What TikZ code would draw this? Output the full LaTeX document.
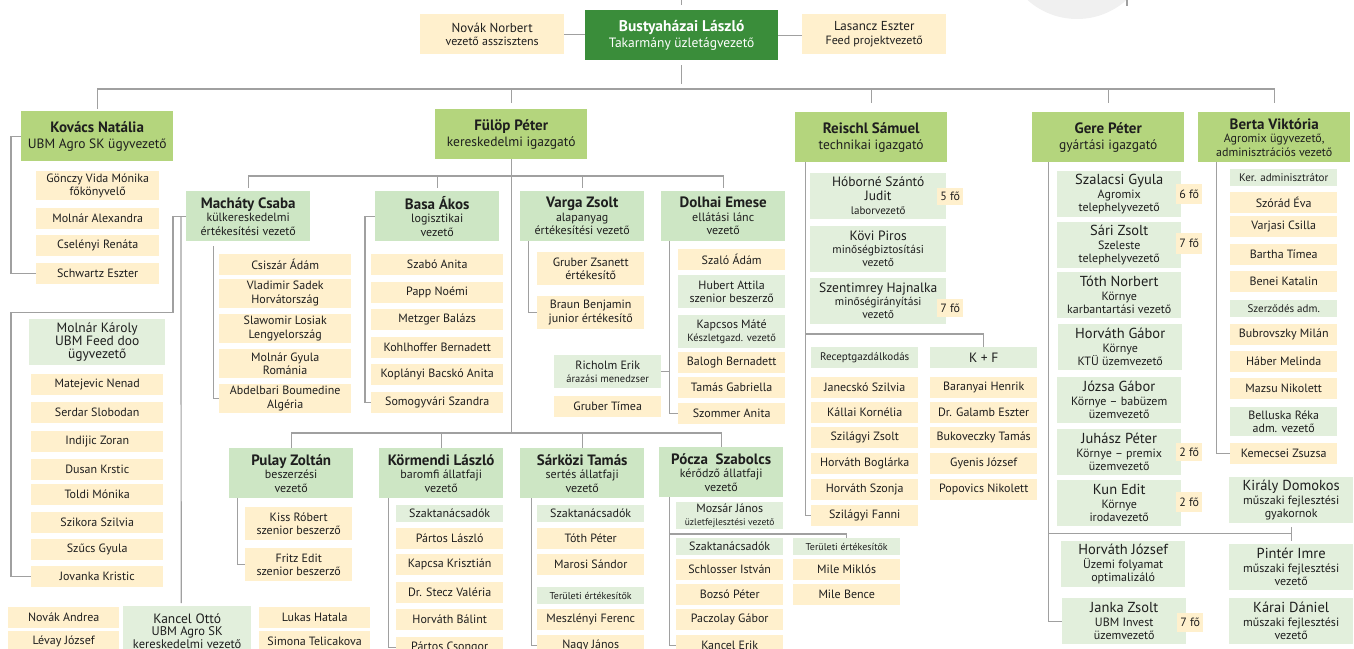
\documentclass[tikz,border=0pt]{standalone}
\usepackage{fontspec}
\setmainfont{PT Sans}
\definecolor{topgreen}{RGB}{58,141,58}
\definecolor{headgreen}{RGB}{180,213,125}
\definecolor{leadgreen}{RGB}{205,230,196}
\definecolor{palegreen}{RGB}{226,239,220}
\definecolor{cream}{RGB}{255,240,205}
\definecolor{linegray}{RGB}{160,160,160}
\definecolor{disc}{RGB}{240,240,240}
\definecolor{ink}{RGB}{30,30,30}

\begin{document}
\begin{tikzpicture}[x=1pt, y=-1pt]
    \tikzstyle{every node} = [anchor=north west, inner sep=0pt, align=center, text=ink, font=\fontsize{12}{13.5}\selectfont]
    \tikzstyle{boss} = [fill=topgreen, text=white, minimum width=193pt, minimum height=50pt, font=\fontsize{13.5}{16}\selectfont]
    \tikzstyle{head} = [fill=headgreen, minimum width=152pt, minimum height=50pt, font=\fontsize{13.5}{16}\selectfont]
    \tikzstyle{lead} = [fill=leadgreen, minimum width=124pt, minimum height=50pt, font=\fontsize{12}{13.5}\selectfont]
    \tikzstyle{unit} = [fill=palegreen]
    \tikzstyle{person} = [fill=cream]
    \tikzstyle{tag} = [fill=cream, minimum width=26pt, minimum height=19pt]
    \tikzstyle{tiny} = [font=\fontsize{10}{11}\selectfont]
    \tikzstyle{small} = [font=\fontsize{11}{12.5}\selectfont]
    \tikzstyle{w107} = [minimum width=107pt]
    \tikzstyle{w111} = [minimum width=111pt]
    \tikzstyle{w123} = [minimum width=123pt]
    \tikzstyle{w124} = [minimum width=124pt]
    \tikzstyle{w132} = [minimum width=132pt]
    \tikzstyle{w136} = [minimum width=136pt]
    \tikzstyle{h17} = [minimum height=17pt]
    \tikzstyle{h21} = [minimum height=21pt]
    \tikzstyle{h29} = [minimum height=29pt]
    \tikzstyle{h33} = [minimum height=33pt]
    \tikzstyle{h46} = [minimum height=46pt]
    \tikzstyle{link} = [draw=linegray, line width=1.2pt]

    \useasboundingbox (0,0) rectangle (1354,648);
    \clip (0,0) rectangle (1354,648);
    \fill[disc] (1077,-55) circle (74pt);

    % top
    \node [person, minimum width=144pt, minimum height=40pt, font=\fontsize{12}{13.5}\selectfont] (novakn) at (420,14) {{\fontsize{13}{14}\selectfont Novák Norbert}\\vezető asszisztens};
    \node [boss] (busty) at (585,10) {{\bfseries\fontsize{15.5}{17}\selectfont Bustyaházai László}\\Takarmány üzletágvezető};
    \node [person, minimum width=144pt, minimum height=40pt, font=\fontsize{12}{13.5}\selectfont] (lasancz) at (802,14) {{\fontsize{13}{14}\selectfont Lasancz Eszter}\\Feed projektvezető};

    % directors
    \node [head] (kovacs) at (21,111) {{\bfseries\fontsize{15}{17}\selectfont Kovács Natália}\\UBM Agro SK ügyvezető};
    \node [head] (fulop) at (435,109) {{\bfseries\fontsize{15}{17}\selectfont Fülöp Péter}\\kereskedelmi igazgató};
    \node [head] (reischl) at (795,112) {{\bfseries\fontsize{15}{17}\selectfont Reischl Sámuel}\\technikai igazgató};
    \node [head] (gere) at (1032,112) {{\bfseries\fontsize{15}{17}\selectfont Gere Péter}\\gyártási igazgató};
    \node [head, font=\fontsize{12}{13.5}\selectfont] (berta) at (1198,112) {{\bfseries\fontsize{15}{17}\selectfont Berta Viktória}\\Agromix ügyvezető,\\adminisztrációs vezető};

    % Kovacs
    \node [person, w123, h29] (gonczy) at (36,171) {Gönczy Vida Mónika\\főkönyvelő};
    \node [person, w123, h21] (molnara) at (36,208) {Molnár Alexandra};
    \node [person, w123, h21] (cselenyi) at (36,235) {Cselényi Renáta};
    \node [person, w123, h21] (schwartz) at (36,263) {Schwartz Eszter};

    % kereskedelem
    \node [lead] (machaty) at (186,191) {{\bfseries\fontsize{15}{17}\selectfont Macháty Csaba}\\külkereskedelmi\\értékesítési vezető};
    \node [lead] (basa) at (375,191) {{\bfseries\fontsize{15}{17}\selectfont Basa Ákos}\\logisztikai\\vezető};
    \node [lead] (varga) at (520,191) {{\bfseries\fontsize{15}{17}\selectfont Varga Zsolt}\\alapanyag\\értékesítési vezető};
    \node [lead] (dolhai) at (661,191) {{\bfseries\fontsize{15}{17}\selectfont Dolhai Emese}\\ellátási lánc\\vezető};
    \node [lead] (pulay) at (229,448) {{\bfseries\fontsize{15}{17}\selectfont Pulay Zoltán}\\beszerzési\\vezető};
    \node [lead] (kormendi) at (379,448) {{\bfseries\fontsize{15}{17}\selectfont Körmendi László}\\baromfi állatfaji\\vezető};
    \node [lead] (sarkozi) at (520,448) {{\bfseries\fontsize{15}{17}\selectfont Sárközi Tamás}\\sertés állatfaji\\vezető};
    \node [lead] (pocza) at (659,447) {{\bfseries\fontsize{15}{17}\selectfont Pócza \ Szabolcs}\\kérődző állatfaji\\vezető};

    \node [person, w132, h21] (csiszar) at (219,254) {Csiszár Ádám};
    \node [person, w132, h29] (vladimir) at (219,279) {Vladimir Sadek\\Horvátország};
    \node [person, w132, h29] (slawomir) at (219,314) {Slawomir Losiak\\Lengyelország};
    \node [person, w132, h29] (molnargy) at (219,349) {Molnár Gyula\\Románia};
    \node [person, w132, h29] (abdel) at (219,384) {Abdelbari Boumedine\\Algéria};

    \node [unit, w136, h46, font=\fontsize{13.5}{13}\selectfont] (karoly) at (29,319) {Molnár Károly\\UBM Feed doo\\ügyvezető};
    \node [person, w132, h21] (matej) at (31,374) {Matejevic Nenad};
    \node [person, w132, h21] (serdar) at (31,402) {Serdar Slobodan};
    \node [person, w132, h21] (indijic) at (31,431) {Indijic Zoran};
    \node [person, w132, h21] (dusan) at (31,459) {Dusan Krstic};
    \node [person, w132, h21] (toldi) at (31,484) {Toldi Mónika};
    \node [person, w132, h21] (szikora) at (31,512) {Szikora Szilvia};
    \node [person, w132, h21] (szucs) at (31,539) {Szűcs Gyula};
    \node [person, w132, h21] (jovanka) at (31,566) {Jovanka Kristic};

    \node [person, w111, h21] (novaka) at (8,607) {Novák Andrea};
    \node [person, w111, h21] (levay) at (8,631) {Lévay József};
    \node [unit, minimum width=128pt, minimum height=50pt, font=\fontsize{12.5}{12.5}\selectfont] (kancel) at (123,606) {{\fontsize{13.5}{14}\selectfont Kancel Ottó}\\UBM Agro SK\\kereskedelmi vezető};
    \node [person, w111, h21] (lukas) at (259,607) {Lukas Hatala};
    \node [person, w111, h21] (simona) at (259,631) {Simona Telicakova};

    \node [person, w132, h21] (szaboa) at (371,254) {Szabó Anita};
    \node [person, w132, h21] (papp) at (371,282) {Papp Noémi};
    \node [person, w132, h21] (metzger) at (371,309) {Metzger Balázs};
    \node [person, w132, h21] (kohl) at (371,337) {Kohlhoffer Bernadett};
    \node [person, w132, h21] (koplanyi) at (371,364) {Koplányi Bacskó Anita};
    \node [person, w132, h21] (somogy) at (371,392) {Somogyvári Szandra};

    \node [person, w107, h33] (gruberzs) at (537,252) {Gruber Zsanett\\értékesítő};
    \node [person, w107, h33] (braun) at (537,296) {Braun Benjamin\\junior értékesítő};

    \node [person, w107, h21] (szalo) at (678,249) {Szaló Ádám};
    \node [unit, w107, h33] (hubert) at (678,275) {Hubert Attila\\szenior beszerző};
    \node [unit, w107, h33] (kapcsos) at (678,315) {Kapcsos Máté\\{\fontsize{10.5}{12}\selectfont Készletgazd. vezető}};
    \node [person, w107, h21] (balogh) at (678,352) {Balogh Bernadett};
    \node [person, w107, h21] (tamasg) at (678,377) {Tamás Gabriella};
    \node [person, w107, h21] (szommer) at (678,403) {Szommer Anita};
    \node [unit, w107, h33] (richolm) at (554,355) {Richolm Erik\\{\fontsize{10.5}{12}\selectfont árazási menedzser}};
    \node [person, w107, h21] (grubert) at (554,396) {Gruber Tímea};

    \node [person, w107, h33] (kiss) at (245,507) {Kiss Róbert\\szenior beszerző};
    \node [person, w107, h33] (fritz) at (245,548) {Fritz Edit\\szenior beszerző};

    \node [unit, w107, h17] (szakK) at (396,505) {Szaktanácsadók};
    \node [person, w107, h21] (partosl) at (396,528) {Pártos László};
    \node [person, w107, h21] (kapcsa) at (396,554) {Kapcsa Krisztián};
    \node [person, w107, h21] (stecz) at (396,582) {Dr. Stecz Valéria};
    \node [person, w107, h21] (horvathb) at (396,609) {Horváth Bálint};
    \node [person, w107, h21] (partoscs) at (396,637) {Pártos Csongor};

    \node [unit, w107, h17] (szakS) at (537,505) {Szaktanácsadók};
    \node [person, w107, h21] (tothp) at (537,528) {Tóth Péter};
    \node [person, w107, h21] (marosi) at (537,554) {Marosi Sándor};
    \node [unit, w107, h17, tiny] (terulS) at (537,587) {Területi értékesítők};
    \node [person, w107, h21] (meszlenyi) at (537,609) {Meszlényi Ferenc};
    \node [person, w107, h21] (nagyj) at (537,635) {Nagy János};

    \node [unit, w107, minimum height=27pt] (mozsar) at (676,502) {Mozsár János\\{\fontsize{9.5}{11}\selectfont üzletfejlesztési vezető}};
    \node [unit, w107, h17] (szakP) at (676,538) {Szaktanácsadók};
    \node [person, w107, h21] (schlosser) at (676,559) {Schlosser István};
    \node [person, w107, h21] (bozso) at (676,584) {Bozsó Péter};
    \node [person, w107, h21] (paczolay) at (676,609) {Paczolay Gábor};
    \node [person, w107, h21] (kancele) at (676,635) {Kancel Erik};
    \node [unit, w107, h17, tiny] (terulP) at (793,538) {Területi értékesítők};
    \node [person, w107, h21] (milem) at (793,559) {Mile Miklós};
    \node [person, w107, h21] (mileb) at (793,584) {Mile Bence};

    % technika
    \node [unit, w136, h46, font=\fontsize{13.5}{14}\selectfont] (hoborne) at (810,173) {Hóborné Szántó\\Judit\\{\fontsize{11}{12}\selectfont laborvezető}};
    \node [unit, w136, h46, font=\fontsize{11.5}{13}\selectfont] (kovi) at (810,226) {{\fontsize{13.5}{14}\selectfont Kövi Piros}\\minőségbiztosítási\\vezető};
    \node [unit, w136, h46, font=\fontsize{11.5}{13}\selectfont] (szentim) at (810,278) {{\fontsize{13.5}{14}\selectfont Szentimrey Hajnalka}\\minőségirányítási\\vezető};
    \node [tag, minimum height=17pt] (tag5) at (937,188) {5 fő};
    \node [tag, minimum height=18pt] (tag7a) at (937,299) {7 fő};
    \node [unit, w107, h21, small] (recept) at (811,347) {Receptgazdálkodás};
    \node [unit, w107, h21, font=\fontsize{13.5}{14}\selectfont] (kf) at (930,347) {K + F};
    \node [person, w107, h21] (janecsko) at (811,377) {Janecskó Szilvia};
    \node [person, w107, h21] (kallai) at (811,402) {Kállai Kornélia};
    \node [person, w107, h21] (szzsolt) at (811,427) {Szilágyi Zsolt};
    \node [person, w107, h21] (hboglarka) at (811,453) {Horváth Boglárka};
    \node [person, w107, h21] (hszonja) at (811,479) {Horváth Szonja};
    \node [person, w107, h21] (szfanni) at (811,505) {Szilágyi Fanni};
    \node [person, w107, h21] (baranyai) at (930,377) {Baranyai Henrik};
    \node [person, w107, h21] (galamb) at (930,402) {Dr. Galamb Eszter};
    \node [person, w107, h21] (bukov) at (930,427) {Bukoveczky Tamás};
    \node [person, w107, h21] (gyenis) at (930,453) {Gyenis József};
    \node [person, w107, h21] (popovics) at (930,479) {Popovics Nikolett};

    % gyartas
    \node [unit, w124, h46] (szalacsi) at (1057,171) {{\fontsize{14.5}{15}\selectfont Szalacsi Gyula}\\Agromix\\telephelyvezető};
    \node [unit, w124, h46] (sari) at (1057,222) {{\fontsize{14.5}{15}\selectfont Sári Zsolt}\\Szeleste\\telephelyvezető};
    \node [unit, w124, h46] (tothn) at (1057,272) {{\fontsize{14.5}{15}\selectfont Tóth Norbert}\\Környe\\karbantartási vezető};
    \node [unit, w124, h46] (horvathg) at (1058,324) {{\fontsize{14.5}{15}\selectfont Horváth Gábor}\\Környe\\KTÜ üzemvezető};
    \node [unit, w124, h46] (jozsa) at (1057,377) {{\fontsize{14.5}{15}\selectfont Józsa Gábor}\\Környe – babüzem\\üzemvezető};
    \node [unit, w124, h46] (juhasz) at (1057,429) {{\fontsize{14.5}{15}\selectfont Juhász Péter}\\Környe – premix\\üzemvezető};
    \node [unit, w124, h46] (kun) at (1057,480) {{\fontsize{14.5}{15}\selectfont Kun Edit}\\Környe\\irodavezető};
    \node [unit, w124, h46] (horvathj) at (1061,541) {{\fontsize{14.5}{15}\selectfont Horváth József}\\Üzemi folyamat\\optimalizáló};
    \node [unit, w124, h46] (janka) at (1062,598) {{\fontsize{14.5}{15}\selectfont Janka Zsolt}\\UBM Invest\\üzemvezető};
    \node [tag, minimum height=20pt] (tag6) at (1176,184) {6 fő};
    \node [tag, minimum height=21pt] (tag7b) at (1176,233) {7 fő};
    \node [tag, minimum height=18pt] (tag2a) at (1176,443) {2 fő};
    \node [tag, minimum height=20pt] (tag2b) at (1176,492) {2 fő};
    \node [tag] (tag7c) at (1177,613) {7 fő};
    \node [unit, w124, h46] (kiraly) at (1229,477) {{\fontsize{14.5}{15}\selectfont Király Domokos}\\műszaki fejlesztési\\gyakornok};
    \node [unit, w124, h46] (pinter) at (1229,544) {{\fontsize{14.5}{15}\selectfont Pintér Imre}\\műszaki fejlesztési\\vezető};
    \node [unit, w124, h46] (karai) at (1229,598) {{\fontsize{14.5}{15}\selectfont Kárai Dániel}\\műszaki fejlesztési\\vezető};

    % adminisztracio
    \node [unit, w107, h17, small] (keradm) at (1230,169) {Ker. adminisztrátor};
    \node [person, w107, h21] (szorad) at (1230,192) {Szórád Éva};
    \node [person, w107, h21] (varjasi) at (1230,216) {Varjasi Csilla};
    \node [person, w107, h21] (bartha) at (1230,244) {Bartha Tímea};
    \node [person, w107, h21] (benei) at (1230,271) {Benei Katalin};
    \node [unit, w107, h17, small] (szerz) at (1230,300) {Szerződés adm.};
    \node [person, w107, h21] (bubrov) at (1230,324) {Bubrovszky Milán};
    \node [person, w107, h21] (haber) at (1230,351) {Háber Melinda};
    \node [person, w107, h21] (mazsu) at (1230,378) {Mazsu Nikolett};
    \node [unit, w107, h29] (belluska) at (1230,407) {Belluska Réka\\adm. vezető};
    \node [person, w107, h21] (kemecsei) at (1230,443) {Kemecsei Zsuzsa};

    % connectors
    \draw[link] (1127,0) -- (1127,6);
    \draw[link] (novakn.east) -- (novakn.east -| busty.west);
    \draw[link] (busty.east) -- (busty.east -| lasancz.west);
    \draw[link] ([yshift=5pt]busty.north) -- ++(0,-6);
    \draw[link] ([yshift=-5pt]busty.south) -- ([yshift=-24pt]busty.south);
    \coordinate (bar) at (0,89);
    \draw[link] ([yshift=2pt]kovacs.north) -- (kovacs.north |- bar) -- (berta.north |- bar) -- ([yshift=9pt]berta.north);
    \draw[link] (fulop.north |- bar) -- ([yshift=6pt]fulop.north);
    \draw[link] (reischl.north |- bar) -- ([yshift=9pt]reischl.north);
    \draw[link] (gere.north |- bar) -- ([yshift=9pt]gere.north);

    \draw[link] (kovacs.west) -- ++(-10,0) |- (schwartz.west);

    \coordinate (barA) at (0,176);
    \coordinate (barB) at (0,433);
    \draw[link] (fulop.south) -- (fulop.south |- barB);
    \draw[link] ([yshift=3pt]machaty.north) -- (machaty.north |- barA) -- (dolhai.north |- barA) -- ([yshift=3pt]dolhai.north);
    \draw[link] (basa.north |- barA) -- ([yshift=3pt]basa.north);
    \draw[link] (varga.north |- barA) -- ([yshift=3pt]varga.north);
    \draw[link] (pulay.north) -- (pulay.north |- barB) -- (pocza.north |- barB) -- (pocza.north);
    \draw[link] (kormendi.north |- barB) -- (kormendi.north);
    \draw[link] (sarkozi.north |- barB) -- (sarkozi.north);

    \draw[link] ([xshift=-35pt,yshift=-5pt]machaty.south) |- (abdel.west);
    \draw[link] (machaty.west) -- ++(-13,0) -- ++(0,96) -| ([xshift=-20pt]jovanka.west) -- (jovanka.west);
    \draw[link] ([xshift=-5pt]machaty.west) -- ([xshift=-6pt,yshift=3pt]kancel.north);
    \draw[link] (basa.west) -- ++(-10,0) |- (somogy.west);
    \draw[link] ([xshift=-54pt]varga.south) |- (braun.west);
    \draw[link] ([xshift=-54pt]dolhai.south) |- (szommer.west);
    \draw[link] (richolm.east) -- ++(8,0);
    \draw[link] ([xshift=-54pt]pulay.south) |- (fritz.west);
    \draw[link] ([xshift=-53pt]kormendi.south) |- (partoscs.west);
    \draw[link] ([xshift=-51pt]sarkozi.south) |- (nagyj.west);
    \draw[link] ([xshift=-52pt]pocza.south) |- (kancele.west);
    \draw[link] (terulP.north) -- ++(0,-4) -| ([xshift=-52pt]pocza.south);

    \draw[link] ([xshift=-66pt]reischl.south) |- (szfanni.west);
    \draw[link] (kf.north) -- ++(0,-13) -| ([xshift=-66pt]reischl.south);

    \coordinate (gline) at ([xshift=-60pt]gere.south);
    \draw[link] (gline) |- (janka.west);
    \draw[link] ([yshift=-4pt]kiraly.south) -- ([yshift=3pt]pinter.north);
    \coordinate (kp) at ([yshift=-10pt]kiraly.south);
    \draw[link] (kp) -- (kp -| gline);
    \draw[link] ([xshift=-58pt]berta.south) |- (kemecsei.west);
\end{tikzpicture}
\end{document}
